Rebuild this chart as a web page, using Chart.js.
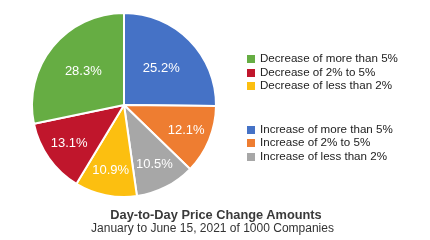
<!DOCTYPE html>
<html>
<head>
<meta charset="utf-8">
<script src="https://cdn.jsdelivr.net/npm/chart.js@4"></script>
<style>
    body { margin: 0; background: #fff; font-family: "Liberation Sans", Arial, sans-serif; }
    #wrap { position: relative; width: 430px; height: 240px; overflow: hidden; }
    #pieBox { position: absolute; left: 0; top: 0; width: 248px; height: 210px; }
    #legend { position: absolute; left: 247px; top: 51px; font-size: 11.6px; color: #222; }
    .item { height: 13.6px; line-height: 13.6px; white-space: nowrap; }
    .item span { display: inline-block; width: 8px; height: 8px; margin-right: 5px; vertical-align: -1px; }
    .gap { height: 30px; }
    #title { position: absolute; left: 0; width: 432px; top: 207px; text-align: center; font-size: 12.8px; font-weight: bold; color: #3a3a3a; }
    #subtitle { position: absolute; left: 0; width: 425px; top: 221px; text-align: center; font-size: 12px; color: #333; }
</style>
</head>
<body>
<div id="wrap">
    <div id="pieBox"><canvas id="myChart"></canvas></div>
    <div id="legend"></div>
    <div id="title">Day-to-Day Price Change Amounts</div>
    <div id="subtitle">January to June 15, 2021 of 1000 Companies</div>
</div>
<script>
// slices in clockwise order from 12 o'clock
const labels = [
    'Increase of more than 5%',
    'Increase of 2% to 5%',
    'Increase of less than 2%',
    'Decrease of less than 2%',
    'Decrease of 2% to 5%',
    'Decrease of more than 5%'
];
const values = [25.2, 12.1, 10.5, 10.9, 13.1, 28.3];
const colors = ['#4572c6', '#ee7d31', '#a7a7a7', '#fcbf10', '#c0162c', '#66ad43'];

// legend groups, as indexes into labels
const decreaseGroup = [5, 4, 3];
const increaseGroup = [0, 1, 2];

const legend = document.querySelector('#legend');
const addGroup = (group) => {
    group.forEach((i) => {
        const row = document.createElement('div');
        row.className = 'item';
        row.innerHTML = '<span style="background:' + colors[i] + '"></span>' + labels[i];
        legend.appendChild(row);
    });
};
addGroup(decreaseGroup);
const gap = document.createElement('div');
gap.className = 'gap';
legend.appendChild(gap);
addGroup(increaseGroup);

// white percentage labels inside the slices
const sliceLabels = {
    id: 'sliceLabels',
    afterDatasetsDraw(chart) {
        const ctx = chart.ctx;
        const meta = chart.getDatasetMeta(0);
        ctx.save();
        ctx.font = '13px "Liberation Sans", Arial, sans-serif';
        ctx.fillStyle = '#fff';
        ctx.textAlign = 'center';
        ctx.textBaseline = 'middle';
        meta.data.forEach((arc, i) => {
            const p = arc.getProps(['x', 'y', 'startAngle', 'endAngle', 'outerRadius']);
            const mid = (p.startAngle + p.endAngle) / 2;
            const frac = values[i] > 20 ? 0.57 : 0.73;
            const r = p.outerRadius * frac;
            ctx.fillText(values[i].toFixed(1) + '%', p.x + Math.cos(mid) * r, p.y + Math.sin(mid) * r);
        });
        ctx.restore();
    }
};

new Chart(document.getElementById('myChart'), {
    type: 'pie',
    data: {
        labels: labels,
        datasets: [{
            data: values,
            backgroundColor: colors,
            borderColor: '#fff',
            borderWidth: 2
        }]
    },
    options: {
        responsive: true,
        maintainAspectRatio: false,
        animation: false,
        layout: { padding: 12 },
        plugins: {
            legend: { display: false },
            tooltip: { enabled: false }
        }
    },
    plugins: [sliceLabels]
});
</script>
</body>
</html>
